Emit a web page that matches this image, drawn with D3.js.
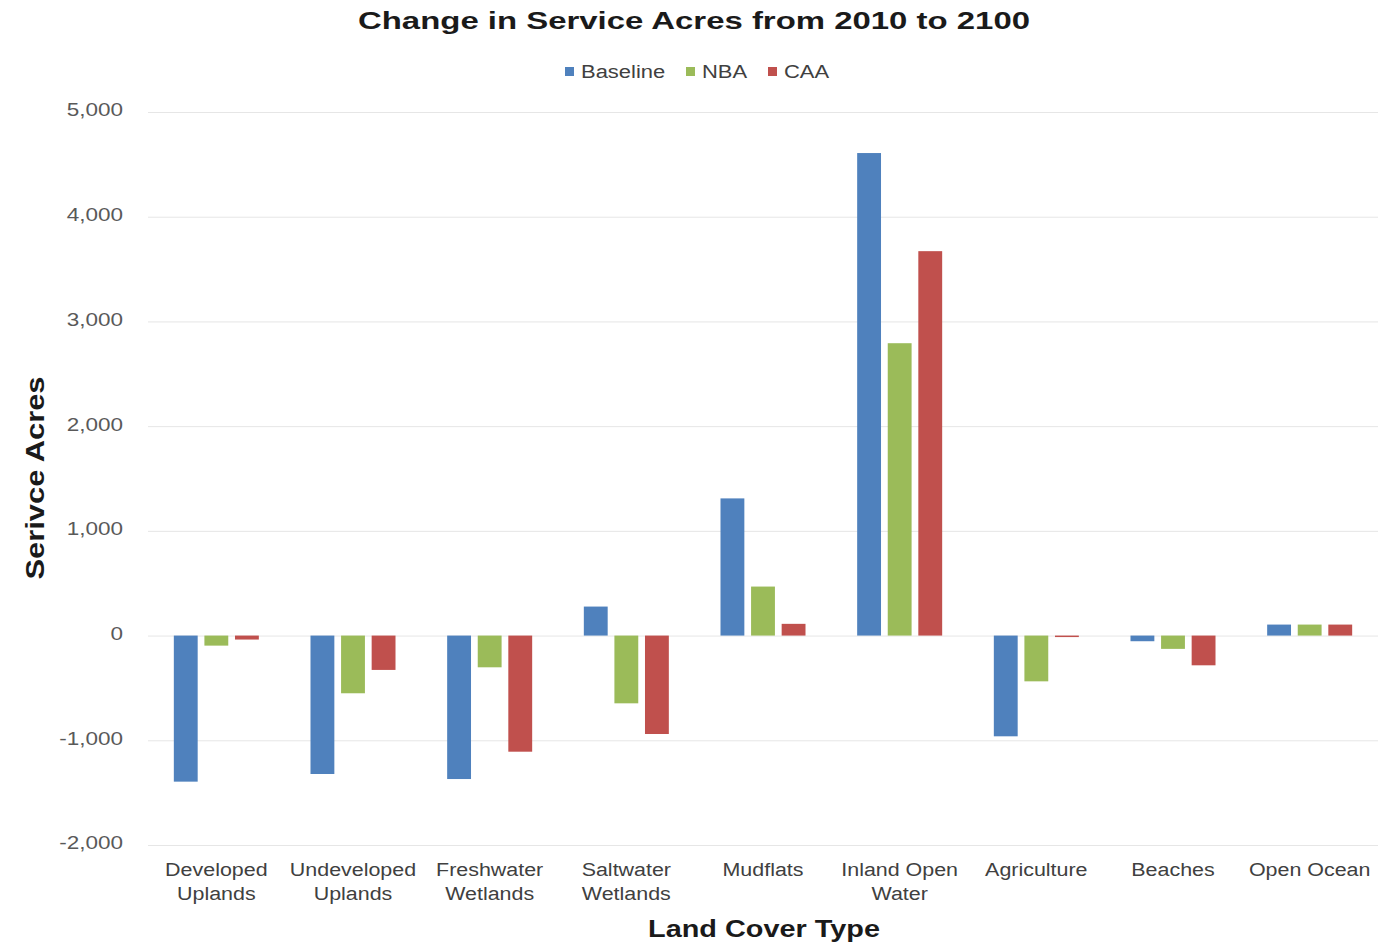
<!DOCTYPE html>
<html>
<head>
<meta charset="utf-8">
<script src="https://cdn.jsdelivr.net/npm/d3@7"></script>
<style>
  html, body { margin: 0; padding: 0; background: #fff; }
  svg { display: block; font-family: "Liberation Sans", Arial, sans-serif; }
</style>
</head>
<body>
<svg id="chart" width="1379" height="946"></svg>
<script>
const categories = [
  ["Developed", "Uplands"],
  ["Undeveloped", "Uplands"],
  ["Freshwater", "Wetlands"],
  ["Saltwater", "Wetlands"],
  ["Mudflats"],
  ["Inland Open", "Water"],
  ["Agriculture"],
  ["Beaches"],
  ["Open Ocean"]
];
const seriesNames = ["Baseline", "NBA", "CAA"];
const baseline = [-1395, -1322, -1370, 277, 1310, 4608, -962, -54, 105];
const nba = [-96, -551, -303, -647, 468, 2792, -437, -127, 105];
const caa = [-38, -328, -1109, -940, 112, 3671, -10, -284, 105];
const colors = ["#4F81BD", "#9BBB59", "#C0504D"];
const yTicks = [-2000, -1000, 0, 1000, 2000, 3000, 4000, 5000];

const seriesValues = [baseline, nba, caa];
const svg = d3.select("#chart");
const plotLeft = 148, plotRight = 1378, plotTop = 112, plotBottom = 845;

function widen(sel, factor) {
  sel.each(function () {
    const w = this.getComputedTextLength();
    d3.select(this).attr("textLength", w * factor).attr("lengthAdjust", "spacingAndGlyphs");
  });
}

const catKeys = categories.map(c => c.join(" "));
const x0 = d3.scaleBand().domain(catKeys).range([plotLeft, plotRight]).paddingInner(0.378).paddingOuter(0.189);
const x1 = d3.scaleBand().domain(seriesNames).range([0, x0.bandwidth()]).paddingInner(0.22).paddingOuter(0);
const y = d3.scaleLinear().domain([-2000, 5000]).range([plotBottom, plotTop]);

// gridlines + tick labels
const fmt = d3.format(",");
const yAxis = d3.axisLeft(y).tickValues(yTicks)
  .tickFormat(d => fmt(d).replace("\u2212", "-"))
  .tickSize(-(plotRight - plotLeft)).tickPadding(25);
const gy = svg.append("g").attr("transform", `translate(${plotLeft},0)`).call(yAxis);
gy.select(".domain").remove();
gy.selectAll(".tick line").attr("stroke", "#e6e6e6").attr("stroke-width", 1);
gy.selectAll(".tick text").attr("fill", "#595959").attr("font-size", 18).attr("dy", "0.22em")
  .attr("font-family", "Liberation Sans, Arial, sans-serif");
widen(gy.selectAll(".tick text"), 1.25);

// bars
const g = svg.append("g");
catKeys.forEach((c, i) => {
  seriesNames.forEach((s, j) => {
    const v = seriesValues[j][i];
    g.append("rect")
      .attr("x", x0(c) + x1(s))
      .attr("width", x1.bandwidth())
      .attr("y", y(Math.max(0, v)))
      .attr("height", Math.max(1.5, Math.abs(y(v) - y(0))))
      .attr("fill", colors[j]);
  });
});

// x labels
const xl = svg.append("g");
categories.forEach((lines, i) => {
  const cx = x0(catKeys[i]) + x0.bandwidth() / 2;
  lines.forEach((ln, k) => {
    xl.append("text").attr("text-anchor", "middle").attr("fill", "#404040").attr("font-size", 18)
      .attr("x", cx).attr("y", 876 + k * 24).text(ln);
  });
});
widen(xl.selectAll("text"), 1.19);

// title
svg.append("text").attr("x", 694).attr("y", 29).attr("text-anchor", "middle")
  .attr("font-size", 24).attr("font-weight", "bold").attr("fill", "#1a1a1a")
  .attr("textLength", 672).attr("lengthAdjust", "spacingAndGlyphs")
  .text("Change in Service Acres from 2010 to 2100");

// axis titles
svg.append("text").attr("x", 764).attr("y", 937).attr("text-anchor", "middle")
  .attr("font-size", 24).attr("font-weight", "bold").attr("fill", "#1a1a1a")
  .attr("textLength", 232).attr("lengthAdjust", "spacingAndGlyphs")
  .text("Land Cover Type");
svg.append("text").attr("transform", "translate(44,478) rotate(-90)").attr("text-anchor", "middle")
  .attr("font-size", 25).attr("font-weight", "bold").attr("fill", "#1a1a1a")
  .attr("textLength", 203).attr("lengthAdjust", "spacingAndGlyphs")
  .text("Serivce Acres");

// legend
const legendX = [565, 686, 768];
const lg = svg.append("g");
seriesNames.forEach((s, j) => {
  lg.append("rect").attr("x", legendX[j]).attr("y", 67).attr("width", 9).attr("height", 9).attr("fill", colors[j]);
  lg.append("text").attr("x", legendX[j] + 16).attr("y", 78).attr("font-size", 18).attr("fill", "#404040").text(s);
});
widen(lg.selectAll("text"), 1.22);
</script>
</body>
</html>
